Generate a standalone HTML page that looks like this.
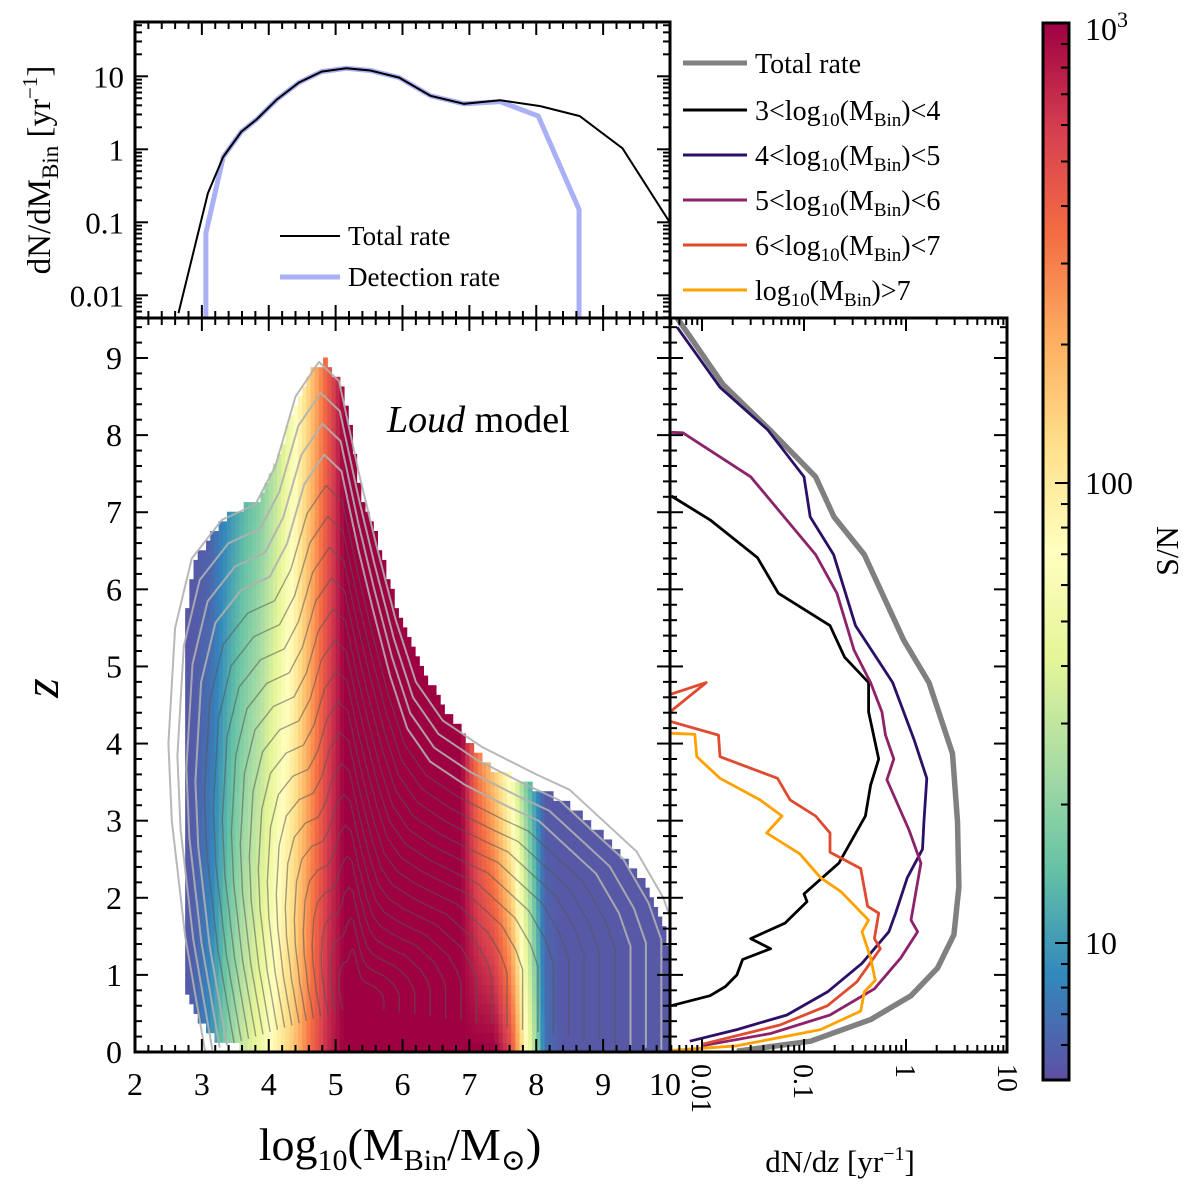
<!DOCTYPE html>
<html><head><meta charset="utf-8"><style>
html,body{margin:0;padding:0;background:#fff}
svg{display:block;font-family:"Liberation Serif","DejaVu Serif",serif}
</style></head><body>
<svg id="fig" width="1200" height="1198" viewBox="0 0 1200 1198" xmlns="http://www.w3.org/2000/svg">
<defs>
<clipPath id="clipTop"><rect x="135" y="22" width="535" height="296"/></clipPath>
<clipPath id="clipMain"><rect x="135" y="318" width="535" height="734"/></clipPath>
<clipPath id="clipRight"><rect x="670" y="318" width="337" height="734"/></clipPath>
<linearGradient id="cbGrad" x1="0" y1="1" x2="0" y2="0">
<stop offset="0" stop-color="#5e4fa2"/><stop offset="0.1" stop-color="#3288bd"/><stop offset="0.2" stop-color="#66c2a5"/><stop offset="0.3" stop-color="#abdda4"/><stop offset="0.4" stop-color="#e6f598"/><stop offset="0.5" stop-color="#ffffbf"/><stop offset="0.6" stop-color="#fee08b"/><stop offset="0.7" stop-color="#fdae61"/><stop offset="0.8" stop-color="#f46d43"/><stop offset="0.9" stop-color="#d53e4f"/><stop offset="1" stop-color="#9e0142"/>
</linearGradient>
</defs>
<g id="gHeat" clip-path="url(#clipMain)"></g>
<g id="gCont" clip-path="url(#clipMain)"></g>
<g id="gTop" clip-path="url(#clipTop)"></g>
<g id="gRight" clip-path="url(#clipRight)"></g>
<g id="gAxes"></g>
<text x="387" y="432" font-size="38"><tspan font-style="italic">Loud</tspan> model</text>
<g>
<line x1="280" y1="236" x2="340" y2="236" stroke="#000" stroke-width="2"/>
<text x="348" y="245" font-size="27">Total rate</text>
<line x1="280" y1="277" x2="340" y2="277" stroke="#aab0f6" stroke-width="5"/>
<text x="348" y="286" font-size="27">Detection rate</text>
</g>
<g id="gLegend"></g>
<text transform="translate(50,170) rotate(-90)" text-anchor="middle" font-size="33">dN/dM<tspan font-size="23" dy="8">Bin</tspan><tspan dy="-8"> [yr</tspan><tspan font-size="21" dy="-13">−1</tspan><tspan dy="13">]</tspan></text>
<text transform="translate(58,688) rotate(-90)" text-anchor="middle" font-size="50" font-style="italic">z</text>
<text x="400" y="1160" text-anchor="middle" font-size="46">log<tspan font-size="30" dy="10">10</tspan><tspan dy="-10">(M</tspan><tspan font-size="30" dy="10">Bin</tspan><tspan dy="-10">/M</tspan><tspan font-size="30" dy="10">⊙</tspan><tspan dy="-10">)</tspan></text>
<text x="840" y="1172" text-anchor="middle" font-size="31">dN/d<tspan font-style="italic">z</tspan> [yr<tspan font-size="20" dy="-12">−1</tspan><tspan dy="12">]</tspan></text>
<text transform="translate(1178,551) rotate(-90)" text-anchor="middle" font-size="32">S/N</text>
<g id="gCbar"></g>
</svg>
<script>
// ---------- data: top panel ----------
const topMass = [2.65,3.09,3.32,3.59,3.82,4.12,4.45,4.79,5.16,5.52,5.95,6.42,6.92,7.46,8.06,8.65,9.29,9.99];
const topTotal = [0.0057,0.25,0.79,1.74,2.57,4.8,8.2,11.6,12.9,12.0,9.6,5.4,4.2,4.7,3.9,2.85,1.03,0.102];
const detMass = [3.06,3.06,3.32,3.59,3.82,4.12,4.45,4.79,5.16,5.52,5.95,6.42,6.92,7.46,8.03,8.64,8.64];
const detRate = [0.001,0.071,0.79,1.74,2.57,4.8,8.2,11.6,12.9,12.0,9.6,5.4,4.2,4.5,2.85,0.15,0.001];
// ---------- data: right panel (dN/dz vs z) ----------
const totZ = [9.52,8.66,8.07,7.46,6.94,6.45,5.34,4.79,3.87,2.99,2.14,1.52,1.09,0.73,0.42,0.14,0.01];
const totV = [0.0057,0.016,0.046,0.13,0.197,0.39,0.95,1.68,2.86,3.2,3.3,2.95,2.04,1.12,0.45,0.116,0.022];
const m34Z = [7.21,6.9,6.41,5.95,5.53,5.12,4.79,4.41,3.8,3.46,3.06,2.45,2.05,1.95,1.67,1.47,1.34,1.2,1.0,0.85,0.73,0.6];
const m34V = [0.005,0.012,0.035,0.056,0.18,0.25,0.43,0.43,0.54,0.45,0.40,0.22,0.10,0.107,0.065,0.030,0.047,0.025,0.022,0.017,0.012,0.005];
const m45Z = [9.4,8.62,8.07,7.46,6.94,6.45,5.53,4.79,4.05,3.55,3.0,2.63,2.26,1.8,1.56,1.15,0.78,0.48,0.29,0.14];
const m45V = [0.0057,0.015,0.044,0.10,0.115,0.195,0.32,0.74,1.2,1.6,1.5,1.45,1.03,0.79,0.68,0.37,0.17,0.068,0.022,0.0076];
const m56Z = [8.04,8.03,7.46,6.45,5.95,5.21,4.79,4.41,4.11,3.8,3.53,2.88,2.45,1.71,1.56,1.22,0.82,0.48,0.24,0.08];
const m56V = [0.004,0.0065,0.030,0.13,0.21,0.31,0.45,0.58,0.63,0.76,0.65,1.07,1.4,1.12,1.3,0.89,0.49,0.18,0.047,0.010];
const m67Z = [4.6,4.79,4.32,4.11,3.83,3.55,3.27,3.06,2.84,2.59,2.38,1.89,1.8,1.47,1.34,0.91,0.6,0.35,0.1];
const m67V = [0.004,0.011,0.004,0.0145,0.015,0.055,0.073,0.13,0.18,0.18,0.36,0.42,0.54,0.49,0.56,0.33,0.17,0.058,0.010];
const m7Z = [4.14,4.12,3.83,3.55,3.27,3.06,2.84,2.57,2.26,2.08,1.71,1.56,1.22,0.93,0.78,0.53,0.29,0.08,0.01];
const m7V = [0.004,0.0085,0.0089,0.015,0.037,0.061,0.043,0.091,0.145,0.23,0.43,0.37,0.45,0.50,0.39,0.36,0.145,0.022,0.004];
// ---------- data: heatmap columns ----------
const colMass = [2.75,2.875,3.125,3.375,3.625,3.875,4.125,4.375,4.625,4.875,5.125,5.375,5.625,5.875,6.125,6.375,6.625,6.875,7.125,7.375,7.625,7.875,8.125,8.375,8.625,8.875,9.125,9.375,9.625,9.875,10.0];
const colZlo = [0.8,0.5,0.2,0.1,0.05,0,0,0,0,0,0,0,0,0,0,0,0,0,0,0,0,0,0,0,0,0,0,0,0,0,0];
const colZhi = [5.5,6.3,6.6,6.9,7.0,7.1,7.6,8.3,8.8,8.9,8.5,7.2,6.6,5.8,5.3,4.8,4.4,4.1,3.8,3.6,3.5,3.4,3.3,3.2,3.05,2.85,2.65,2.4,2.1,1.6,1.3];
const colSNlo = [5.5,6,9,18,32,50,90,160,350,700,1000,1000,1000,1000,1000,1000,1000,1000,1000,1000,500,60,7,5.5,5.5,5.5,5.5,5.5,5.5,5.5,5.5];
const colSNhi = [5.5,5.5,6,9,13,18,30,60,150,400,1000,1000,1000,1000,1000,1000,1000,1000,300,150,60,15,5.5,5.5,5.5,5.5,5.5,5.5,5.5,5.5,5.5];
// contour envelope
const envM = [3.05,2.75,2.55,2.5,2.6,2.85,3.3,3.8,4.1,4.4,4.75,5.05,5.35,5.6,5.9,6.2,6.6,7.2,8.0,8.5,9.0,9.5,9.9,10.1,10.1];
const envZ = [0,1.5,3,4,5.5,6.4,6.9,7.1,7.6,8.5,8.95,8.7,7.5,6.6,5.6,4.8,4.3,3.95,3.6,3.4,3.0,2.6,2.0,1.5,0];
// ticks
const mainXTicks = [2,3,4,5,6,7,8,9,10];
const mainYTicks = [0,1,2,3,4,5,6,7,8,9];
const topYTicks = [10,1,0.1,0.01];
const topYLabels = ["10","1","0.1","0.01"];
const rightXTicks = [0.01,0.1,1,10];
const rightXLabels = ["0.01","0.1","1","10"];
const cbTicks = [1000,100,10];
const legendLabels = ["3","4","5","6"];

const NS="http://www.w3.org/2000/svg";
function mk(tag, parent, attrs){const e=document.createElementNS(NS,tag);for(const k in attrs)e.setAttribute(k,attrs[k]);parent.appendChild(e);return e;}
const L=Math.log10;
const mx=m=>135+(m-2)*66.875;
const zy=z=>1052-z*77.11;
const ty=v=>149.3-L(v)*73;
const rx=v=>804+(L(v)+1)*102;
const cby=v=>23+(3-L(v))*460;
const stops=["#5e4fa2","#3288bd","#66c2a5","#abdda4","#e6f598","#ffffbf","#fee08b","#fdae61","#f46d43","#d53e4f","#9e0142"];
function hex(h){return [1,3,5].map(i=>parseInt(h.substr(i,2),16));}
function cmap(sn){let t=(L(sn)-0.702)/(3-0.702);t=Math.max(0,Math.min(1,t));const p=t*10,i=Math.min(9,Math.floor(p)),f=p-i;const a=hex(stops[i]),b=hex(stops[i+1]);return "rgb("+a.map((c,k)=>Math.round(c+(b[k]-c)*f)).join(",")+")";}
function interp(xs,ys,x){if(x<=xs[0])return ys[0];for(let i=1;i<xs.length;i++){if(x<=xs[i]){const f=(x-xs[i-1])/(xs[i]-xs[i-1]);return ys[i-1]+(ys[i]-ys[i-1])*f;}}return ys[ys.length-1];}

// heatmap (fine bins interpolated between column estimates)
const gHeat=document.getElementById('gHeat');
const dz=0.125, dm=0.0625;
const snLoL=colSNlo.map(L), snHiL=colSNhi.map(L);
for(let m=2.75; m<10.0; m+=dm){
  const c=m+dm/2;
  const zlo=interp(colMass,colZlo,c), zhi=interp(colMass,colZhi,c);
  const a=interp(colMass,snLoL,c), b=interp(colMass,snHiL,c);
  for(let z=Math.round(zlo/dz)*dz; z<zhi-1e-6; z+=dz){
    const f=z/zhi;
    const sn=Math.pow(10,a+(b-a)*f);
    const r=mk('rect',gHeat,{x:mx(m),y:zy(z+dz)-0.5,width:mx(m+dm)-mx(m)+0.6,height:zy(z)-zy(z+dz)+1,fill:cmap(sn)});
    
    
  }
}
// contours
const gCont=document.getElementById('gCont');
const cm=5.3, cz=0.6;
for(let k=0;k<20;k++){
  const s=1-k*0.048;
  const pts=envM.map((m,i)=>mx(cm+(m-cm)*s).toFixed(1)+","+zy(cz+(envZ[i]-cz)*s).toFixed(1)).join(" ");
  const p=mk('polyline',gCont,{points:pts,fill:'none',stroke:k<4?'#b0b0b0':'#555',"stroke-width":k<4?2:1.4,"stroke-opacity":k<4?0.9:0.55,"stroke-linejoin":"round"});
  
  
}
// top panel lines
const gTop=document.getElementById('gTop');
let p=mk('polyline',gTop,{points:detMass.map((m,i)=>mx(m)+","+ty(detRate[i])).join(" "),fill:'none',stroke:'#aab0f6',"stroke-width":5});


p=mk('polyline',gTop,{points:topMass.map((m,i)=>mx(m)+","+ty(topTotal[i])).join(" "),fill:'none',stroke:'#000',"stroke-width":2});


// right panel lines
const gRight=document.getElementById('gRight');
const series=[[totZ,totV,'#808080',5.5,'total-rate-z-line'],[m34Z,m34V,'#000',2.8,'mass-3-4-line'],[m45Z,m45V,'#2c0f66',2.8,'mass-4-5-line'],[m56Z,m56V,'#8c2369',2.8,'mass-5-6-line'],[m67Z,m67V,'#e04a2e',2.8,'mass-6-7-line'],[m7Z,m7V,'#ffa200',2.8,'mass-7plus-line']];
series.forEach(s=>{
  const q=mk('polyline',gRight,{points:s[0].map((z,i)=>rx(s[1][i]).toFixed(1)+","+zy(z).toFixed(1)).join(" "),fill:'none',stroke:s[2],"stroke-width":s[3],"stroke-linejoin":"round"});
  
  
});
// right legend
const gLeg=document.getElementById('gLegend');
const legY=[63,110,155,200,245,290];
series.forEach((s,i)=>{
  const l=mk('line',gLeg,{x1:683,x2:747,y1:legY[i],y2:legY[i],stroke:s[2],"stroke-width":i==0?5:3});
  
  
  const t=mk('text',gLeg,{x:755,y:legY[i]+10,"font-size":28});
  
  
  if(i==0) t.textContent="Total rate";
  else if(i<5) t.innerHTML=legendLabels[i-1]+"&lt;log<tspan font-size='19' dy='6'>10</tspan><tspan dy='-6'>(M</tspan><tspan font-size='19' dy='6'>Bin</tspan><tspan dy='-6'>)&lt;"+(+legendLabels[i-1]+1)+"</tspan>";
  else t.innerHTML="log<tspan font-size='19' dy='6'>10</tspan><tspan dy='-6'>(M</tspan><tspan font-size='19' dy='6'>Bin</tspan><tspan dy='-6'>)&gt;7</tspan>";
});
// axes
const gA=document.getElementById('gAxes');
function line(x1,y1,x2,y2,w){return mk('line',gA,{x1,y1,x2,y2,stroke:'#000',"stroke-width":w||2});}
function txt(x,y,s,size,anchor){const t=mk('text',gA,{x,y,"font-size":size,"text-anchor":anchor||'middle'});t.textContent=s;return t;}
for(let v=2;v<=10.001;v+=0.2){const x=mx(v),maj=Math.abs(v-Math.round(v))<1e-6,len=maj?13:7;line(x,1052,x,1052-len);line(x,318,x,318+len);line(x,22,x,22+len);line(x,318,x,318-len);}
for(let v=0;v<=9.5;v+=0.2){const y=zy(v),maj=Math.abs(v-Math.round(v))<1e-6,len=maj?13:7;line(135,y,135+len,y);line(670,y,670-len,y);line(670,y,670+len,y);line(1007,y,1007-len,y);}
mainXTicks.forEach(v=>txt(mx(v)+(v==10?-5:0),1095,String(v),32));
mainYTicks.forEach(v=>txt(122,zy(v)+11,String(v),32,'end'));
for(let d=-3;d<=1;d++){for(let k=1;k<10;k++){const v=k*Math.pow(10,d),y=ty(v);if(y<22||y>318)continue;const len=k==1?13:7;line(135,y,135+len,y);line(670,y,670-len,y);}}
topYTicks.forEach((v,i)=>txt(124,ty(v)+11,topYLabels[i],31,'end'));
for(let d=-3;d<=1;d++){for(let k=1;k<10;k++){const v=k*Math.pow(10,d),x=rx(v);if(x<670||x>1007)continue;const len=k==1?13:7;line(x,1052,x,1052-len);line(x,318,x,318+len);}}
rightXTicks.forEach((v,i)=>{const t=txt(0,0,rightXLabels[i],28,'start');t.setAttribute('transform','translate('+(rx(v)-10)+',1064) rotate(90)');});
[[135,22,535,296],[135,318,535,734],[670,318,337,734]].forEach(r=>{const f=mk('rect',gA,{x:r[0],y:r[1],width:r[2],height:r[3],fill:'none',stroke:'#000',"stroke-width":3});});
// colorbar
const gC=document.getElementById('gCbar');
mk('rect',gC,{x:1043,y:23,width:26,height:1057,fill:'url(#cbGrad)',stroke:'#000',"stroke-width":3});
for(let d=0;d<=3;d++){for(let k=1;k<10;k++){const v=k*Math.pow(10,d),y=cby(v);if(y<24||y>1079)continue;const len=k==1?14:8;mk('line',gC,{x1:1069,x2:1069-len,y1:y,y2:y,stroke:'#000',"stroke-width":2});}}
cbTicks.forEach(v=>{const t=mk('text',gC,{x:1085,y:cby(v)+(v==1000?17:11),"font-size":32});if(v==1000)t.innerHTML="10<tspan font-size='22' dy='-13'>3</tspan>";else t.textContent=String(v);});
</script>
</body></html>
